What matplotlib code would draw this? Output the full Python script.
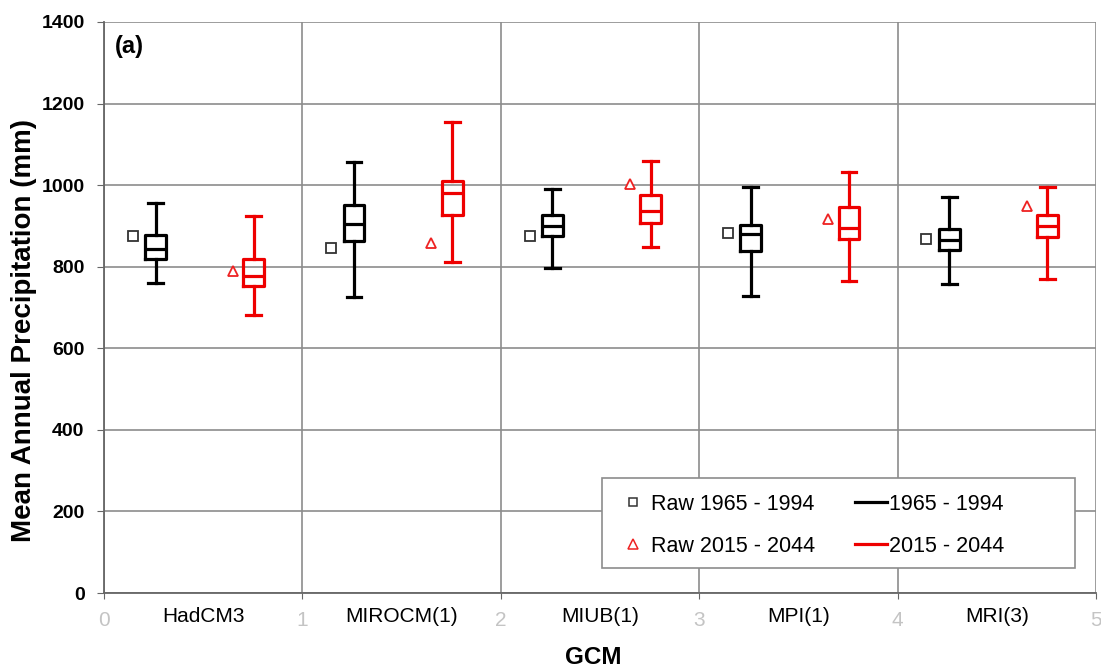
import matplotlib
matplotlib.use("Agg")
import matplotlib.pyplot as plt
from matplotlib.lines import Line2D
from matplotlib.patches import Rectangle

plt.rcParams['font.family'] = ['Liberation Sans', 'DejaVu Sans']

gcms = ["HadCM3", "MIROCM(1)", "MIUB(1)", "MPI(1)", "MRI(3)"]

# baseline 1965-1994: whisker low, q1, median, q3, whisker high
base_low = [761, 726, 797, 728, 757]
base_q1 = [820, 863, 875, 839, 841]
base_med = [843, 904, 900, 879, 865]
base_q3 = [878, 951, 927, 902, 892]
base_high = [957, 1057, 991, 996, 972]
raw_base = [876, 847, 876, 883, 867]

# future 2015-2044
fut_low = [681, 811, 849, 765, 770]
fut_q1 = [753, 927, 908, 867, 872]
fut_med = [777, 980, 937, 894, 900]
fut_q3 = [818, 1011, 976, 947, 928]
fut_high = [924, 1154, 1060, 1033, 996]
raw_fut = [790, 857, 1003, 917, 949]

x_ticks = [0, 1, 2, 3, 4, 5]

W, H = 1101, 669
fig = plt.figure(figsize=(W/100, H/100), dpi=100)
ax = fig.add_axes([104/W, 1-593/H, (1096-104)/W, (593-22)/H])

def stats(low, q1, med, q3, high):
    return [dict(whislo=a, q1=b, med=c, q3=d, whishi=e, fliers=[])
            for a, b, c, d, e in zip(low, q1, med, q3, high)]

n = len(gcms)
pos_b = [i + 0.26 for i in range(n)]
pos_f = [i + 0.755 for i in range(n)]

BLACK = 'black'
RED = '#ee0000'
for st, pos, col in [(stats(base_low, base_q1, base_med, base_q3, base_high), pos_b, BLACK),
                     (stats(fut_low, fut_q1, fut_med, fut_q3, fut_high), pos_f, RED)]:
    lw = 2.3
    ax.bxp(st, positions=pos, widths=0.105, showfliers=False,
           boxprops=dict(color=col, linewidth=lw),
           medianprops=dict(color=col, linewidth=lw),
           whiskerprops=dict(color=col, linewidth=lw),
           capprops=dict(color=col, linewidth=lw),
           capwidths=0.075, manage_ticks=False, zorder=3)

ax.plot([p - 0.115 for p in pos_b], raw_base, linestyle='none', marker='s', ms=7,
        mfc='white', mec='#333333', mew=1.3, zorder=4)
ax.plot([p - 0.105 for p in pos_f], raw_fut, linestyle='none', marker='^', ms=7.5,
        mfc='white', mec='#ee2222', mew=1.3, zorder=4)

ax.set_xlim(0, 5)
ax.set_ylim(0, 1400)
ax.set_yticks(range(0, 1401, 200))
ax.set_xticks(x_ticks)
ax.set_xticklabels([str(t) for t in x_ticks], color='#c4c4c4', fontsize=15)
ax.tick_params(axis='y', labelsize=14, length=5, color='#666666', pad=9)
ax.tick_params(axis='x', length=4, color='#666666', pad=9)
for lab in ax.get_yticklabels():
    lab.set_fontweight('bold')

ax.grid(True, color='#8c8c8c', linewidth=1.2, zorder=0)
ax.set_axisbelow(True)
for s in ['top', 'right']:
    ax.spines[s].set_visible(False)
for s in ['left', 'bottom']:
    ax.spines[s].set_color('#666666')
    ax.spines[s].set_linewidth(1.3)

for i, g in enumerate(gcms):
    fig.text((104 + (i + 0.5) * 992 / 5) / W, 1 - 617/H, g, ha='center', va='center',
             fontsize=15)

fig.text(24/W, 1 - 330/H, "Mean Annual Precipitation (mm)", rotation=90,
         fontsize=20, fontweight='bold', ha='center', va='center')
fig.text(593/W, 1 - 658/H, "GCM", fontsize=17.5, fontweight='bold',
         ha='center', va='center')
ax.text(0.011, 0.957, "(a)", transform=ax.transAxes, fontsize=17, fontweight='bold',
        ha='left', va='center')

# legend frame
x0 = (602 - 104) / 992
x1 = (1075 - 104) / 992
y1 = (593 - 478) / 571
y0 = (593 - 568) / 571
ax.add_patch(Rectangle((x0, y0), x1 - x0, y1 - y0, transform=ax.transAxes,
                       facecolor='white', edgecolor='#8c8c8c', linewidth=1.2, zorder=5))

handles = [
    Line2D([], [], linestyle='none', marker='s', ms=6, mfc='white', mec='#333333', mew=1.1),
    Line2D([], [], linestyle='none', marker='^', ms=6.5, mfc='white', mec='#ee2222', mew=1.1),
    Line2D([], [], color='black', linewidth=2.3),
    Line2D([], [], color=RED, linewidth=2.3),
]
labels = ["Raw 1965 - 1994", "Raw 2015 - 2044", "1965 - 1994", "2015 - 2044"]
leg = ax.legend(handles, labels, ncol=2, loc='upper left',
                bbox_to_anchor=(x0, y1),
                fontsize=15.5, frameon=False, handlelength=1.47, handletextpad=0.1,
                columnspacing=1.85, borderpad=0.72, labelspacing=1.0, borderaxespad=0)
leg.set_zorder(6)

fig.savefig("out.png", dpi=100)
